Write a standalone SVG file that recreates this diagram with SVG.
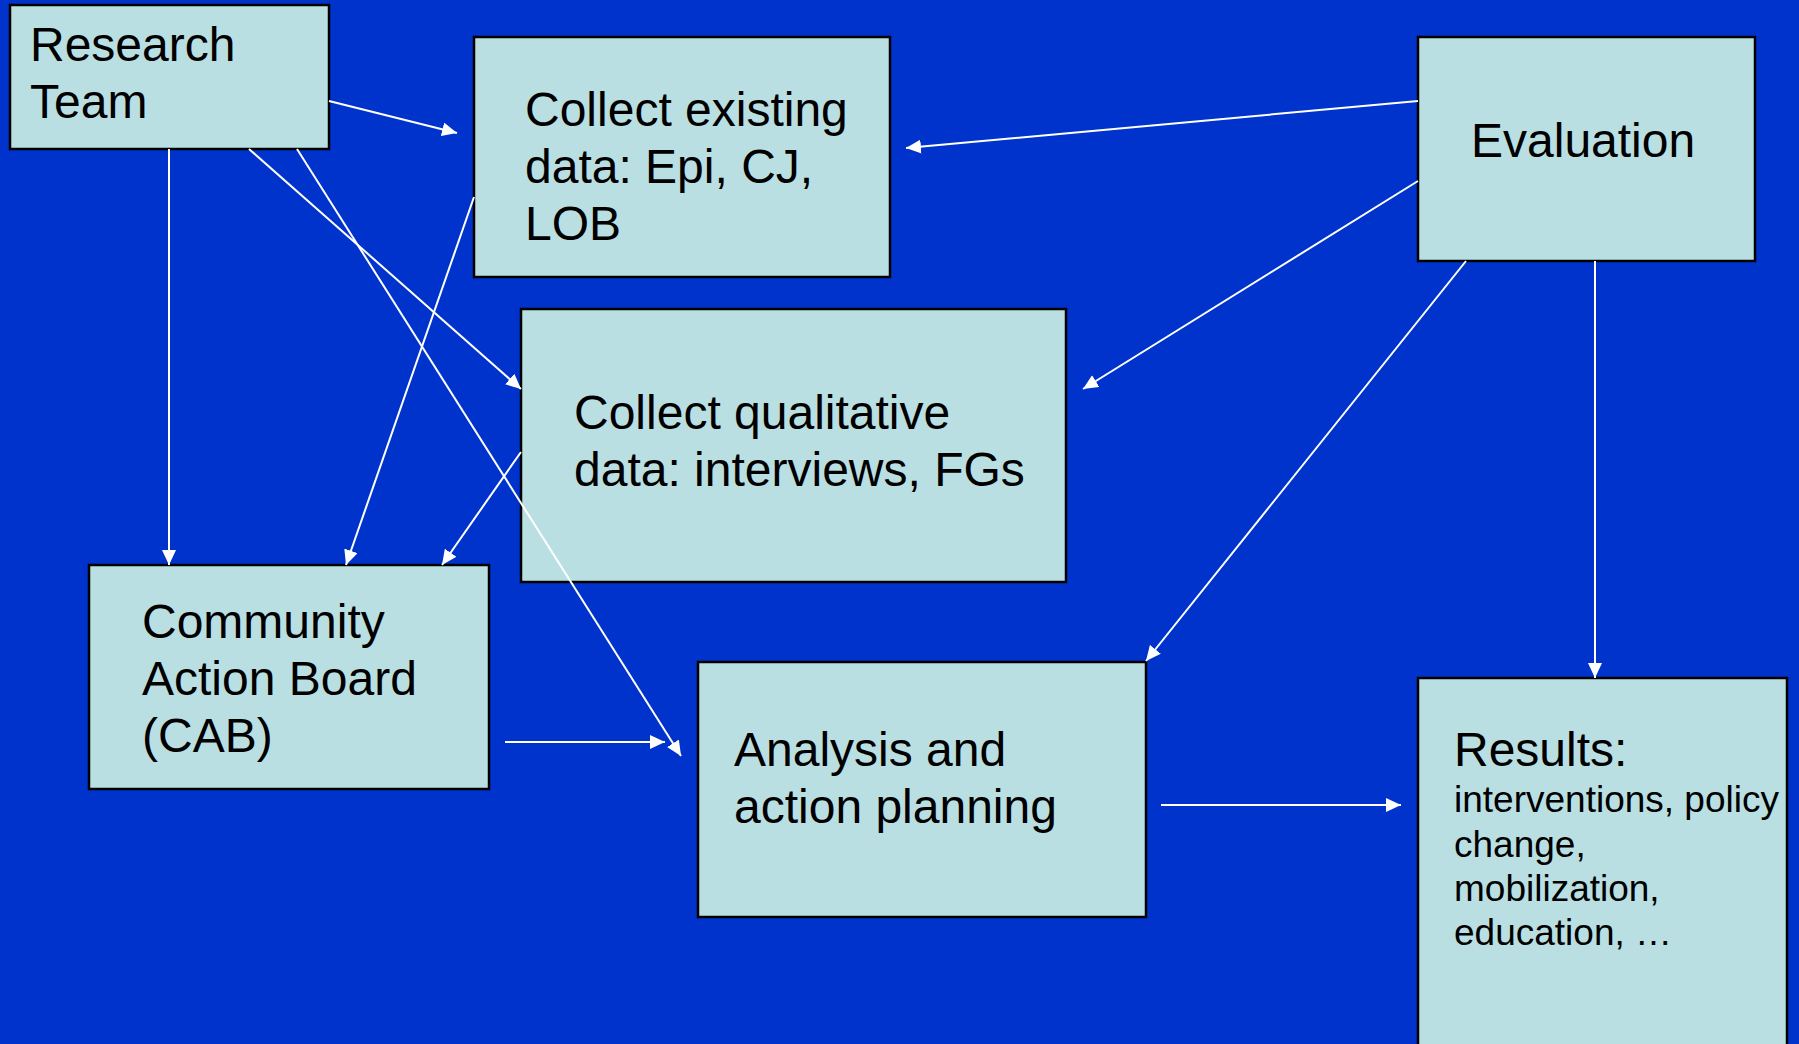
<svg xmlns="http://www.w3.org/2000/svg" width="1799" height="1044" viewBox="0 0 1799 1044">
<style>
.box{fill:#B9DFE2;stroke:#000;stroke-width:2.5}
.t{font-family:"Liberation Sans",Arial,sans-serif;font-size:48px;fill:#000}
.s{font-family:"Liberation Sans",Arial,sans-serif;font-size:37px;fill:#000}
.c{stroke:#fff;stroke-width:2;fill:none}
</style>
<defs>
<marker id="ah" markerUnits="userSpaceOnUse" markerWidth="16" markerHeight="14" refX="15" refY="7" orient="auto">
<path d="M0,0 L15,7 L0,14 z" fill="#fff"/>
</marker>
</defs>
<rect width="1799" height="1044" fill="#0033CC"/>
<g id="research-team">
<rect class="box" x="10" y="5" width="319" height="144"/>
<text class="t" x="30" y="61">Research</text>
<text class="t" x="30" y="118">Team</text>
</g>
<g id="collect-existing">
<rect class="box" x="474" y="37" width="416" height="240"/>
<text class="t" x="525" y="126">Collect existing</text>
<text class="t" x="525" y="183">data: Epi, CJ,</text>
<text class="t" x="525" y="240">LOB</text>
</g>
<g id="evaluation">
<rect class="box" x="1418" y="37" width="337" height="224"/>
<text class="t" x="1471" y="157">Evaluation</text>
</g>
<g id="collect-qualitative">
<rect class="box" x="521" y="309" width="545" height="273"/>
<text class="t" x="574" y="429">Collect qualitative</text>
<text class="t" x="574" y="486">data: interviews, FGs</text>
</g>
<g id="cab">
<rect class="box" x="89" y="565" width="400" height="224"/>
<text class="t" x="142" y="638">Community</text>
<text class="t" x="142" y="695">Action Board</text>
<text class="t" x="142" y="752">(CAB)</text>
</g>
<g id="analysis">
<rect class="box" x="698" y="662" width="448" height="255"/>
<text class="t" x="734" y="766">Analysis and</text>
<text class="t" x="734" y="823">action planning</text>
</g>
<g id="results">
<rect class="box" x="1418" y="678" width="369" height="380"/>
<text class="t" x="1454" y="766">Results:</text>
<text class="s" x="1454" y="812">interventions, policy</text>
<text class="s" x="1454" y="857">change,</text>
<text class="s" x="1454" y="901">mobilization,</text>
<text class="s" x="1454" y="945">education, …</text>
</g>
<g id="connectors">
<line class="c" x1="329" y1="101" x2="457" y2="133" marker-end="url(#ah)"/>
<line class="c" x1="169" y1="149" x2="169" y2="565" marker-end="url(#ah)"/>
<line class="c" x1="249" y1="149" x2="521" y2="389" marker-end="url(#ah)"/>
<line class="c" x1="297" y1="149" x2="681" y2="756" marker-end="url(#ah)"/>
<line class="c" x1="474" y1="197" x2="346" y2="565" marker-end="url(#ah)"/>
<line class="c" x1="521" y1="452" x2="442" y2="565" marker-end="url(#ah)"/>
<line class="c" x1="505" y1="742" x2="665" y2="742" marker-end="url(#ah)"/>
<line class="c" x1="1418" y1="101" x2="906" y2="148" marker-end="url(#ah)"/>
<line class="c" x1="1418" y1="181" x2="1083" y2="389" marker-end="url(#ah)"/>
<line class="c" x1="1466" y1="261" x2="1146" y2="661" marker-end="url(#ah)"/>
<line class="c" x1="1595" y1="261" x2="1595" y2="678" marker-end="url(#ah)"/>
<line class="c" x1="1161" y1="805" x2="1401" y2="805" marker-end="url(#ah)"/>
</g>
</svg>
